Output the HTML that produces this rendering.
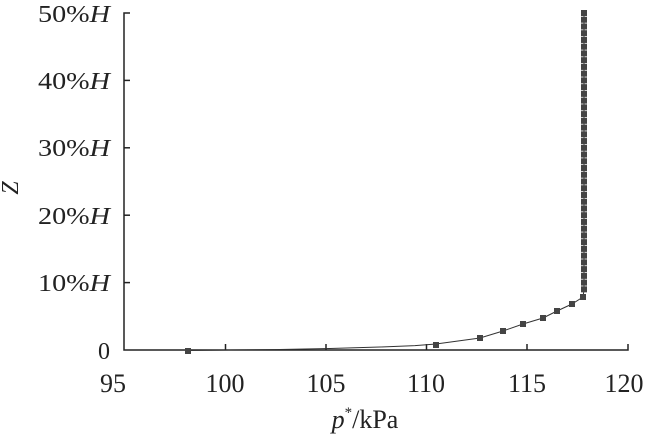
<!DOCTYPE html>
<html><head><style>
body{margin:0;background:#fff;}
svg{display:block;font-family:"Liberation Serif",serif;}
</style></head><body>
<svg width="650" height="436" viewBox="0 0 650 436">
<g stroke="#222" stroke-width="1.5" fill="none">
<polyline points="130,13 124,13 124,350 628,350 628,344"/>
<line x1="124" y1="80.4" x2="130" y2="80.4"/><line x1="124" y1="147.8" x2="130" y2="147.8"/><line x1="124" y1="215.2" x2="130" y2="215.2"/><line x1="124" y1="282.6" x2="130" y2="282.6"/>
<line x1="225.5" y1="350" x2="225.5" y2="344"/><line x1="326" y1="350" x2="326" y2="344"/><line x1="426.5" y1="350" x2="426.5" y2="344"/><line x1="527" y1="350" x2="527" y2="344"/>
</g>
<polyline fill="none" stroke="#333" stroke-width="1" points="188,350.5 230,350 280,349.5 330,348.5 380,347 415,345.6 436,344 480,338 503,331 523,324 543,318 557,311 572,304 583,297 584,290 584,12"/>
<g fill="#444" id="m"></g>
<g font-size="24" fill="#222">
<text x="38" y="22" textLength="72" lengthAdjust="spacingAndGlyphs">50%<tspan font-style="italic">H</tspan></text>
<text x="38" y="89" textLength="72" lengthAdjust="spacingAndGlyphs">40%<tspan font-style="italic">H</tspan></text>
<text x="38" y="156" textLength="72" lengthAdjust="spacingAndGlyphs">30%<tspan font-style="italic">H</tspan></text>
<text x="38" y="224" textLength="72" lengthAdjust="spacingAndGlyphs">20%<tspan font-style="italic">H</tspan></text>
<text x="38" y="291" textLength="72" lengthAdjust="spacingAndGlyphs">10%<tspan font-style="italic">H</tspan></text>
<text x="110" y="359" text-anchor="end">0</text>
</g>
<g font-size="26" fill="#222" text-anchor="middle">
<text x="113" y="392">95</text><text x="225" y="392">100</text><text x="326" y="392">105</text><text x="426" y="392">110</text><text x="527" y="392">115</text><text x="624" y="392">120</text>
<text x="365" y="428"><tspan font-style="italic">p</tspan><tspan font-size="15" dy="-11">*</tspan><tspan dy="11">/kPa</tspan></text>
</g>
<text x="0" y="0" font-size="24" font-style="italic" fill="#222" transform="translate(18,188) rotate(-90)" text-anchor="middle">Z</text>
<script>
var g=document.getElementById('m');var pts=[[188,351],[436,345],[480,338],[503,331],[523,324],[543,318],[557,311],[572,304],[583,297]];
for(var i=9;i<=50;i++)pts.push([584,350-i*6.74]);
pts.forEach(function(p){var r=document.createElementNS('http://www.w3.org/2000/svg','rect');r.setAttribute('x',p[0]-3);r.setAttribute('y',p[1]-3);r.setAttribute('width',6);r.setAttribute('height',6);g.appendChild(r);});
</script>
</svg>
</body></html>
